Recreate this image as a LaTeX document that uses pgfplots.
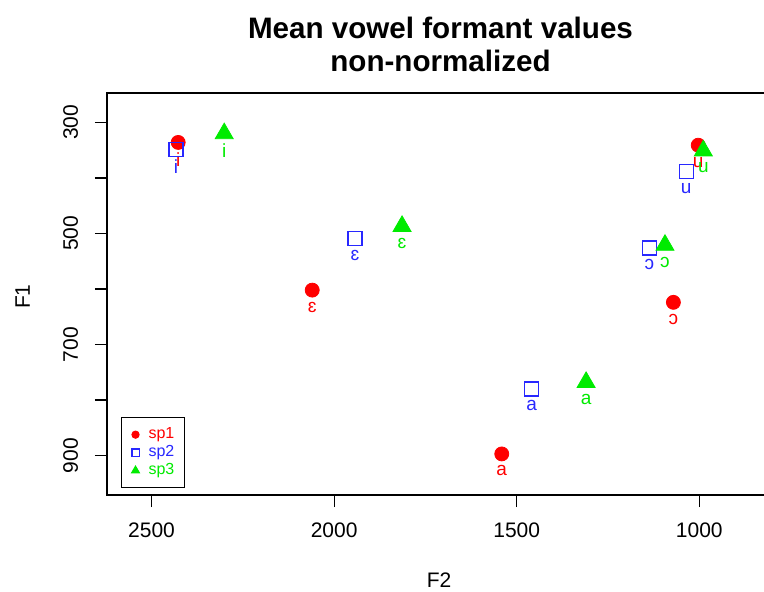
\documentclass[border=0pt]{standalone}
\usepackage{fontspec}
\setmainfont{Liberation Sans}
\usepackage{pgfplots}
\pgfplotsset{compat=1.18}
\definecolor{rred}{RGB}{255,0,0}
\definecolor{rblue}{RGB}{40,40,255}
\definecolor{rgreen}{RGB}{0,235,0}
\pgfplotstableread{
x y l
2427 336 i
2060 602 ɛ
1541 897 a
1071 624 ɔ
1003 341 u
}\spone
\pgfplotstableread{
x y l
2433 349 i
1943 509 ɛ
1459 780 a
1137 526 ɔ
1036 388 u
}\sptwo
\pgfplotstableread{
x y l
2301 320 i
1814 487 ɛ
1310 768 a
1094 521 ɔ
989 351 u
}\spthree
\begin{document}
\begin{tikzpicture}
\begin{axis}[
  at={(0pt,0pt)}, anchor=south west,
  scale only axis, width=334.5pt, height=201pt,
  x dir=reverse, y dir=reverse,
  xmin=790, xmax=2622, ymin=247, ymax=971,
  xtick={2500,2000,1500,1000}, xticklabels={2500,2000,1500,1000},
  ytick={300,400,500,600,700,800,900}, yticklabels={300,,500,,700,,900},
  tick pos=left, tick align=outside, major tick length=6pt,
  tick style={black, line width=0.6pt},
  axis line style={black, line width=0.7pt},
  ticklabel style={font=\fontsize{10.5}{12}\selectfont},
  xticklabel style={anchor=base, inner sep=0pt, yshift=-15pt},
  yticklabel style={rotate=90, anchor=base, inner sep=0pt, yshift=8.5pt},
  mylegimg/.style={legend image code/.code={\draw[mark repeat=2,mark phase=2] plot coordinates {(0pt,0pt) (3.5pt,0pt) (7pt,0pt)};}},
  legend style={at={(0.021,0.017)}, anchor=south west, draw=black, line width=0.5pt, fill=white,
    inner xsep=5pt, inner ysep=5pt, font=\fontsize{8}{9}\selectfont, row sep=2pt,
    nodes={inner sep=0pt, text height=5.5pt, text depth=1.5pt},
    /tikz/every odd column/.append style={column sep=4.5pt}},
  legend cell align=left,
  vlab/.style={forget plot, only marks, mark=none, point meta=explicit symbolic, nodes near coords,
    every node near coord/.append style={anchor=center, yshift=-8.5pt, font=\fontsize{9.5}{11}\selectfont, text=#1}},
]
\addplot[only marks, mark=*, mark size=3.5pt, color=rred, mylegimg,
  mark options={draw=rred, fill=rred},
  legend image post style={mark size=1.8pt}] table[x=x, y=y] {\spone};
\addlegendentry{\textcolor{rred}{sp1}}
\addplot[vlab=rred] table[x=x, y=y, meta=l] {\spone};
\addplot[only marks, mark=square, mark size=3.5pt, line width=0.6pt, color=rblue, mylegimg,
  mark options={draw=rblue, fill=none},
  legend image post style={mark size=1.8pt}] table[x=x, y=y] {\sptwo};
\addlegendentry{\textcolor{rblue}{sp2}}
\addplot[vlab=rblue] table[x=x, y=y, meta=l] {\sptwo};
\addplot[only marks, mark=triangle*, mark size=5.2pt, color=rgreen, mylegimg,
  mark options={draw=rgreen, fill=rgreen},
  legend image post style={mark size=2.3pt}] table[x=x, y=y] {\spthree};
\addlegendentry{\textcolor{rgreen}{sp3}}
\addplot[vlab=rgreen] table[x=x, y=y, meta=l] {\spthree};
\end{axis}
\node[font=\bfseries\fontsize{14.8}{17}\selectfont, anchor=base] at (166.75pt,228.35pt) {Mean vowel formant values};
\node[font=\bfseries\fontsize{14.8}{17}\selectfont, anchor=base] at (166.75pt,211.65pt) {non-normalized};
\node[font=\fontsize{10.5}{12}\selectfont, anchor=base] at (166pt,-46.5pt) {F2};
\node[font=\fontsize{10.5}{12}\selectfont, rotate=90, anchor=base] at (-38.5pt,99.15pt) {F1};
\pgfresetboundingbox
\path[use as bounding box] (-53.5pt,-48.5pt) rectangle (328.5pt,247.5pt);
\end{tikzpicture}
\end{document}
